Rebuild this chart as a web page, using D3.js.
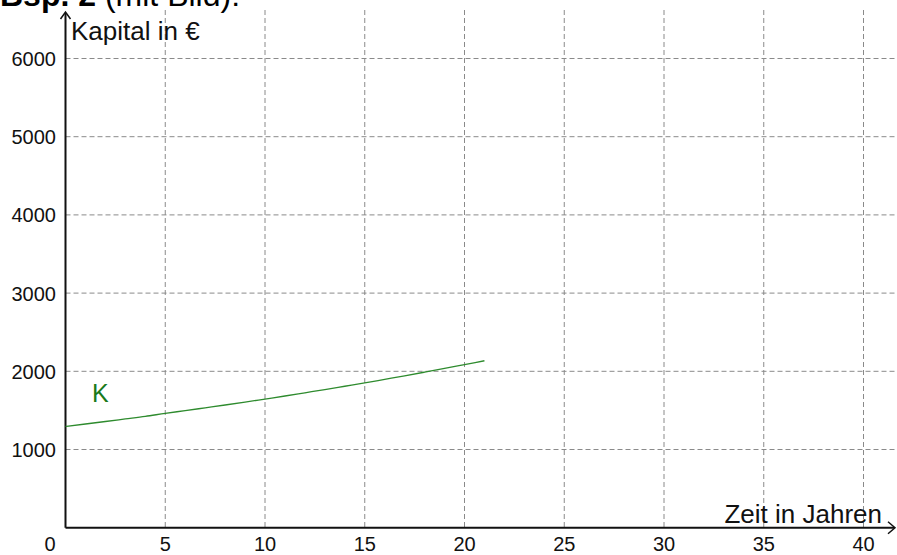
<!DOCTYPE html>
<html>
<head>
<meta charset="utf-8">
<script src="https://cdn.jsdelivr.net/npm/d3@7"></script>
<style>
  body { margin: 0; background: #fff; }
  text { font-family: "Liberation Sans", Arial, sans-serif; }
</style>
</head>
<body>
<div id="chart"></div>
<script>
// Werte
const years = [0, 1, 2, 3, 4, 5, 6, 7, 8, 9, 10, 11, 12, 13, 14, 15, 16, 17, 18, 19, 20, 21];
const kapital = [1295, 1326, 1358, 1391, 1424, 1462, 1497, 1533, 1569, 1606, 1645, 1684, 1725, 1766, 1809, 1852, 1897, 1942, 1989, 2037, 2086, 2135];
const xTicks = [0, 5, 10, 15, 20, 25, 30, 35, 40];
const yTicks = [1000, 2000, 3000, 4000, 5000, 6000];

const width = 897, height = 555;
const x = d3.scaleLinear().domain([0, 40]).range([65.5, 863.5]);
const y = d3.scaleLinear().domain([0, 6000]).range([527.7, 58.5]);

const svg = d3.select("#chart").append("svg")
    .attr("width", width).attr("height", height);

// Titel (oben abgeschnitten)
const title = svg.append("text").attr("x", 0).attr("y", 6)
    .attr("font-size", 32).attr("fill", "#000");
title.append("tspan").attr("font-weight", "bold").text("Bsp. 2");
title.append("tspan").text(" (mit Bild):");

// Gitter
svg.append("g")
    .selectAll("line")
    .data(xTicks.slice(1))
    .join("line")
    .attr("x1", d => x(d)).attr("x2", d => x(d))
    .attr("y1", 10).attr("y2", y(0))
    .attr("stroke", "#8a8a8a").attr("stroke-width", 1)
    .attr("stroke-dasharray", "5,3");

svg.append("g")
    .selectAll("line")
    .data(yTicks)
    .join("line")
    .attr("x1", x(0)).attr("x2", width)
    .attr("y1", d => y(d)).attr("y2", d => y(d))
    .attr("stroke", "#8a8a8a").attr("stroke-width", 1)
    .attr("stroke-dasharray", "5,3");

// Achsen mit Pfeilen
const axes = svg.append("g").attr("stroke", "#111").attr("fill", "none").attr("stroke-width", 2);
axes.append("line").attr("x1", x(0)).attr("x2", 894).attr("y1", y(0)).attr("y2", y(0));
axes.append("line").attr("x1", x(0)).attr("x2", x(0)).attr("y1", y(0)).attr("y2", 13);
axes.append("path").attr("stroke-width", 1.5)
    .attr("d", `M888,${y(0) - 6}L895,${y(0)}L888,${y(0) + 6}`);
axes.append("path").attr("stroke-width", 1.5)
    .attr("d", `M${x(0) - 5},19L${x(0)},12L${x(0) + 5},19`);

// Beschriftungen der Achsen
svg.append("g").attr("font-size", 20).attr("fill", "#111")
    .selectAll("text")
    .data(xTicks)
    .join("text")
    .attr("x", d => d === 0 ? 50 : x(d))
    .attr("y", 551)
    .attr("text-anchor", "middle")
    .text(d => d);

svg.append("g").attr("font-size", 20).attr("fill", "#111")
    .selectAll("text")
    .data(yTicks)
    .join("text")
    .attr("x", 56)
    .attr("y", d => y(d) + 7.5)
    .attr("text-anchor", "end")
    .text(d => d);

svg.append("text").attr("x", 71).attr("y", 40).attr("font-size", 26).attr("fill", "#111")
    .text("Kapital in €");
svg.append("text").attr("x", 882).attr("y", 523).attr("font-size", 26).attr("fill", "#111")
    .attr("text-anchor", "end")
    .text("Zeit in Jahren");

// Kurve K
const line = d3.line()
    .x((d, i) => x(years[i]))
    .y(d => y(d))
    .curve(d3.curveMonotoneX);

svg.append("path")
    .datum(kapital)
    .attr("fill", "none")
    .attr("stroke", "#2e8b2e")
    .attr("stroke-width", 1.3)
    .attr("d", line);

svg.append("text").attr("x", 92).attr("y", 402).attr("font-size", 25).attr("fill", "#1a7a1a")
    .text("K");
</script>
</body>
</html>
